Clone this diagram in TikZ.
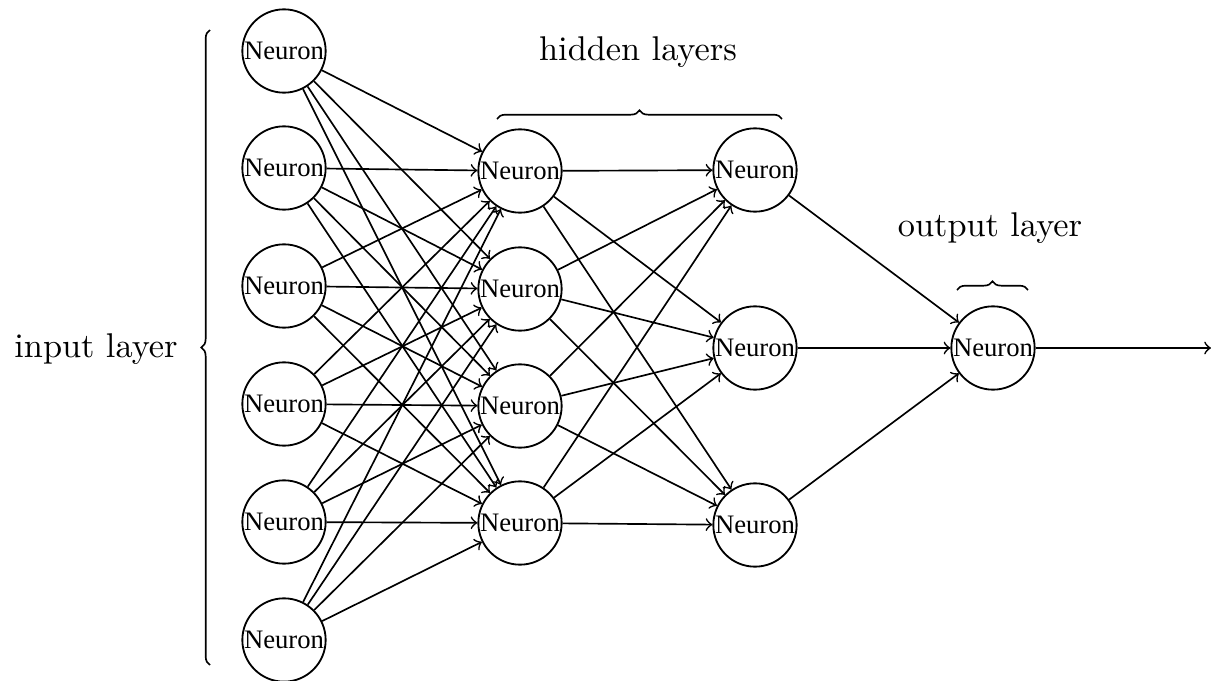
\documentclass[tikz,border=0pt]{standalone}
\usepackage{fontspec}
\newfontfamily\tnr{Liberation Serif}
\usetikzlibrary{decorations.pathreplacing}
\tikzset{
  neuron/.style={circle, draw, line width=0.55pt, minimum size=25pt, inner sep=0pt, font=\tnr\fontsize{8}{9}\selectfont},
  conn/.style={->, line width=0.5pt},
  brc/.style={decorate, decoration={brace, amplitude=2.6pt}, line width=0.5pt},
  lbl/.style={font=\fontsize{10.3}{12}\selectfont}
}
\begin{document}
\begin{tikzpicture}[x=0.3pt, y=-0.3pt]
\useasboundingbox (0,0) rectangle (1212,681);
% input layer
\foreach \i/\y in {1/51,2/168,3/286,4/404,5/522,6/640}
  \node[neuron] (I\i) at (284,\y) {Neuron};
% hidden layer 1
\foreach \i/\y in {1/171,2/289,3/406,4/523}
  \node[neuron] (H\i) at (520,\y) {Neuron};
% hidden layer 2
\foreach \i/\y in {1/170,2/348,3/525}
  \node[neuron] (G\i) at (755,\y) {Neuron};
% output
\node[neuron] (O) at (993,348) {Neuron};
\coordinate (out) at (1211,348);
% connections
\foreach \i in {1,...,6}
  \foreach \j in {1,...,4}
    \draw[conn] (I\i) -- (H\j);
\foreach \i in {1,...,4}
  \foreach \j in {1,...,3}
    \draw[conn] (H\i) -- (G\j);
\foreach \j in {1,...,3}
  \draw[conn] (G\j) -- (O);
\draw[conn] (O) -- (out);
% braces and labels
\coordinate (ib1) at (210,665);
\coordinate (ib2) at (210,30);
\draw[brc] (ib1) -- (ib2);
\node[lbl] (il) at (96,349) {input layer};
\coordinate (hb1) at (497,119);
\coordinate (hb2) at (782,119);
\draw[brc] (hb1) -- (hb2);
\node[lbl] (hl) at (638,52) {hidden layers};
\coordinate (ob1) at (957,290);
\coordinate (ob2) at (1028,290);
\draw[brc] (ob1) -- (ob2);
\node[lbl] (ol) at (990,228) {output layer};
\end{tikzpicture}
\end{document}
